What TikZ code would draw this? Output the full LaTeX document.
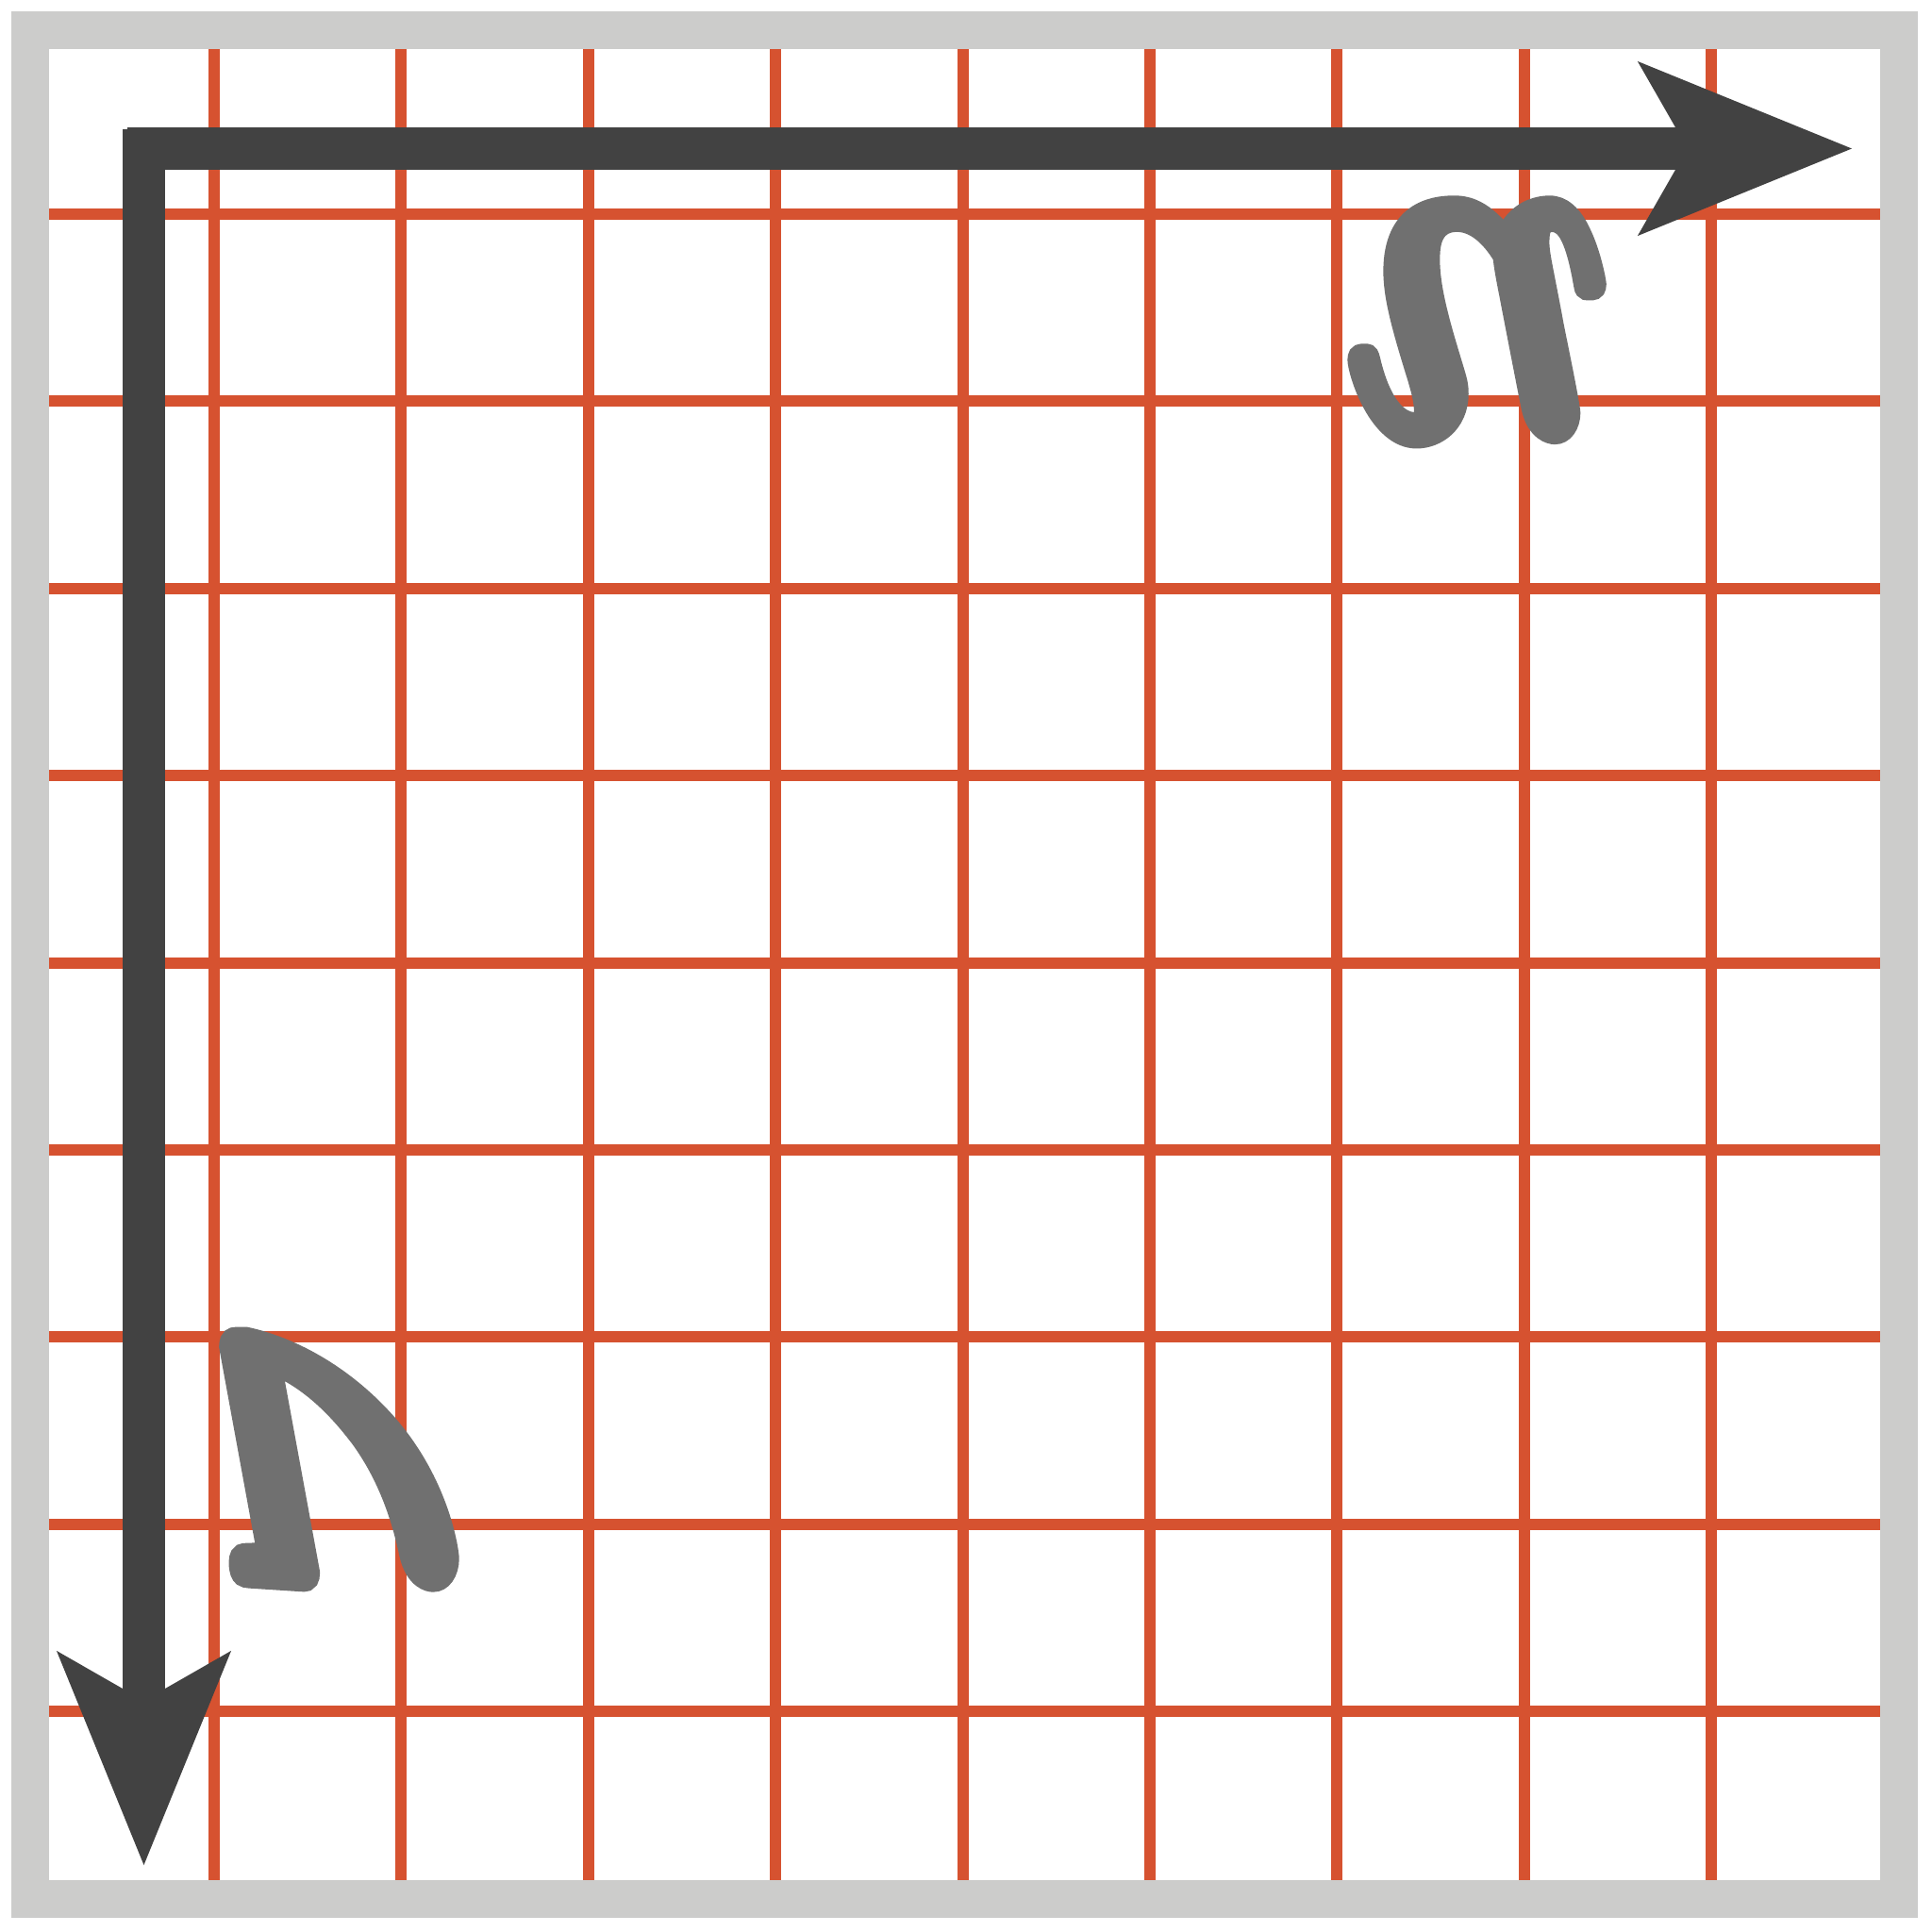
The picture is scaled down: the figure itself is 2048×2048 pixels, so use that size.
\documentclass[tikz,border=0pt]{standalone}
\usepackage{bm}
\usetikzlibrary{arrows.meta}
\definecolor{gridred}{RGB}{214,82,48}
\definecolor{framegray}{RGB}{204,204,203}
\definecolor{arrowdark}{RGB}{66,66,66}
\definecolor{glyphgray}{RGB}{112,112,112}
\newcommand{\heavyglyph}[1]{\special{pdf:literal direct 2 Tr 0.35 w}#1\special{pdf:literal direct 0 Tr}}
\begin{document}
\begin{tikzpicture}[x=0.01cm,y=-0.01cm,
  gridline/.style={draw=gridred,line width=0.12cm},
  frameline/.style={draw=framegray,line width=0.40cm},
  axisarrow/.style={draw=arrowdark,line width=0.45cm,
    -{Stealth[length=2.27cm,width=1.85cm,inset=0.53cm,line width=0pt]}},
  glyph/.style={text=glyphgray,inner sep=0pt,transform shape}]
\useasboundingbox (0,0) rectangle (2048,2048);
\fill[white] (0,0) rectangle (2048,2048);
\foreach \k in {0,...,8}{
  \draw[gridline] ({227+198.4*\k},51) -- ({227+198.4*\k},1993);
  \draw[gridline] (51,{227+198.4*\k}) -- (1993,{227+198.4*\k});
}
\draw[frameline] (32,32) rectangle (2013,2013);
\coordinate (hstart) at (135,157.5);
\coordinate (htip) at (1963,157.5);
\coordinate (vstart) at (152.5,137);
\coordinate (vtip) at (152.5,1977);
\draw[axisarrow] (hstart) -- (htip);
\draw[axisarrow] (vstart) -- (vtip);
\begin{scope}[shift={(1566,341.5)}]
  \node[glyph,xscale=12.0,yscale=-15.4] (uglyph) at (0,0) {\heavyglyph{$\bm{u}$}};
\end{scope}
\begin{scope}[shift={(359,1545)}]
  \node[glyph,xscale=12.2,yscale=-16.4] (nuglyph) at (0,0) {\heavyglyph{$\bm{\nu}$}};
\end{scope}
\end{tikzpicture}
\end{document}
